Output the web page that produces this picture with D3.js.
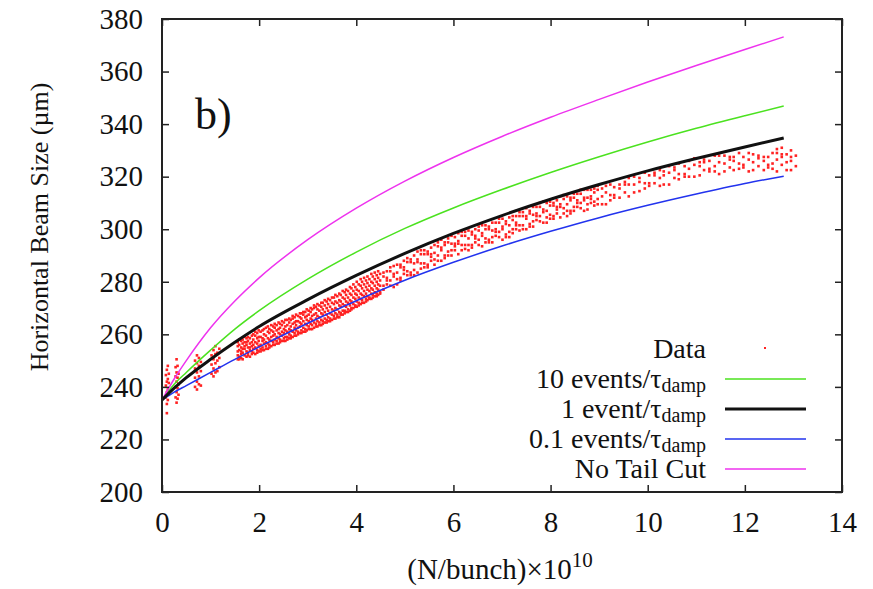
<!DOCTYPE html>
<html>
<head>
<meta charset="utf-8">
<script src="https://d3js.org/d3.v7.min.js"></script>
<style>
    body { margin: 0; background: #fff; }
    text { font-family: "Liberation Serif", "Times New Roman", Times, "DejaVu Serif", serif; fill: #111; }
</style>
</head>
<body>
<script>
//wrap everything in a self-executing anonymous function
(function(){

//axis ticks
var xTicks = [0, 2, 4, 6, 8, 10, 12, 14];
var yTicks = [200, 220, 240, 260, 280, 300, 320, 340, 360, 380];

//simulation curves, sampled along N/bunch (x10^10)
var curveN     = [0, 0.25, 0.5, 1, 1.5, 2, 3, 4, 5, 6, 7, 8, 9, 10, 11, 12, 12.8];
var tenEvents  = [235, 241, 245.5, 254, 262, 269, 281, 291.3, 300.3, 308.1, 315.1, 321.6, 327.6, 333.2, 338.4, 343.2, 346.9];
var oneEvent   = [235, 239.5, 243.5, 250.5, 257, 263, 273.2, 282.4, 290.8, 298.4, 305.2, 311.4, 317, 322.2, 326.9, 331.3, 334.7];
var tenthEvent = [235, 238, 240.5, 245.5, 250.5, 255.2, 264.2, 272.8, 280.6, 287.4, 293.6, 299.2, 304.4, 309.1, 313.4, 317.4, 320.2];
var noTailCut  = [235, 243, 250, 262.5, 272.7, 281.5, 296, 308, 318.3, 327.3, 335.3, 342.6, 349.4, 356, 362.3, 368.4, 373.2];

//measured data, each row is [N/bunch, beam sizes...]
var dataColumns = [
    //first few intensity steps
    [0.08,236,240.5,244.5],[0.10,230,233.5,238,242,246.5],[0.12,235,239,243,248],[0.14,237,241.5,245],
    [0.28,236,240,244,247.5],[0.30,234,238,242,245.5,250.5],[0.32,235.5,239.5,243.5,248],[0.34,237,241,245],
    [0.68,240,243.5,247,250],[0.72,239,242,245.5,249,252],[0.76,241,244,248,251],[0.80,240.5,246,249.5],
    [1.02,245,248.5,252],[1.06,244,247,250.5,254],[1.10,245.5,249,252.5,255.5],[1.14,246,250,253],[1.18,247.5,251,254.5],
    //continuous scan, dense part
    [1.56,250.5,252,255.5,257,253.5],[1.59,251.5,254,256,258,250.5],[1.63,252.5,255,257.5,251,253.5],
    [1.66,250.5,253,256.5,258,254.5],[1.70,252,254.5,257,259,255.5],[1.74,251.5,253.5,256,258.5,257],
    [1.77,253,255,257.5,252,259],[1.81,251.5,254,256.5,258.5,255],[1.85,252.5,255.5,257,259.5,253.5],
    [1.88,253,254.5,258,260,256],[1.92,252.5,255,257,259.5,261],[1.96,254,256.5,258.5,260.5,253],
    [1.99,253.5,255.5,257.5,259,261.5],[2.03,254.5,256,259,261,253.5],[2.07,255,257.5,258.5,261.5,254],
    [2.10,254,256.5,260,262,258],[2.14,255.5,257,259.5,262.5,254.5],[2.18,254.5,256.5,258.5,261,263],
    [2.21,256,258,260.5,262,255],[2.25,255.5,257.5,259,261.5,263.5],[2.29,257,259.5,261,263,256],
    [2.32,256,258,260,262.5,264],[2.36,257.5,259,261.5,263.5,256.5],[2.40,256.5,258.5,260.5,262,264.5],
    [2.43,258,260,262.5,264,257],[2.47,257.5,259.5,261,263.5,265],[2.51,258.5,260.5,262,264.5,257.5],
    [2.54,257.5,259,261.5,263,265.5],[2.58,259,261,263.5,265.5,258],[2.62,258.5,260,262,264.5,266],
    [2.65,259.5,261.5,263,265.5,258.5],[2.69,259,261,264,266,267],[2.73,260.5,262.5,264.5,266.5,259.5],
    [2.76,259.5,261.5,263.5,265,267.5],[2.80,261,262.5,265,267,260],[2.84,260.5,263,264.5,266.5,268],
    [2.87,261.5,264,266,268,260.5],[2.91,261,262.5,265,267.5,268.5],[2.95,262,264,266.5,268.5,261],
    [2.98,261.5,263.5,265.5,267,269.5],[3.02,263,265,267.5,269,262],[3.06,262,264,266,268.5,270],
    [3.09,263.5,265.5,267,269.5,262],[3.13,262.5,264.5,267.5,270,271],[3.17,264,266,268,270.5,263],
    [3.20,263,265,267,269.5,271.5],[3.24,264.5,266.5,269,271,263.5],[3.28,263.5,265.5,268,270.5,272],
    [3.31,265,267.5,269.5,272,264],[3.35,264.5,266,268.5,271,273],[3.39,265.5,267.5,270,272.5,264.5],
    [3.42,265,266.5,269,271.5,273.5],[3.46,266,268,270.5,273,265],[3.50,265.5,267.5,269.5,272,274],
    [3.54,267,269,271.5,274,266],[3.57,266,268,270,272.5,275],[3.61,267.5,269.5,272,274.5,266.5],
    [3.65,266.5,268.5,271,273,275.5],[3.68,268,270.5,272.5,275,267.5],[3.72,267.5,269,271.5,274,276.5],
    [3.76,269,271,273.5,276,268],[3.79,268.5,270.5,272.5,275,277],[3.83,269.5,272,274,276.5,268.5],
    [3.87,269,271,273,275.5,278],[3.90,270,272.5,275,277.5,269.5],[3.94,270,271.5,274,276.5,279],
    [3.98,271,273.5,275.5,278,270.5],[4.01,270.5,272.5,275,277,280],[4.05,272,274,276.5,279,271],
    [4.09,271.5,273.5,275.5,278.5,281],[4.12,273,275,277.5,280,272],[4.16,272,274.5,276.5,279,281.5],
    [4.20,273.5,275.5,278,280.5,272.5],[4.23,273,274.5,277,279.5,282],[4.27,274,276.5,278.5,281,273.5],
    [4.31,273.5,275.5,277.5,280,283],[4.34,275,277,279.5,282,274],[4.38,274.5,276,278.5,281,283.5],
    [4.42,275.5,277.5,280,282.5,274.5],[4.45,275,277,279,281.5,284],[4.49,276,278.5,280.5,283,275.5],
    //continuous scan, middle part
    [4.56,277,278.5,282,283.5],[4.63,279,280.5,281.5,284],[4.70,280.5,284,285.5,278.5],[4.77,278,282,283,286],
    [4.84,279,281,283.5,286.5],[4.91,280.5,281.5,285.5,286.5],[4.98,283,284.5,285.5,288],[5.05,282.5,284,287.5,289],
    [5.12,282.5,283.5,287.5,288.5],[5.19,282.5,284.5,287,290],[5.26,283.5,287.5,288.5,291.5],[5.33,287,290.5,292,285],
    [5.40,285.5,287,290.5,292],[5.47,285.5,286.5,290.5,291.5],[5.54,288,289.5,290.5,293],[5.61,286.5,288.5,291,294],
    [5.68,290,293.5,295,288],[5.75,288,292,293,296],[5.82,289,290,294,295],[5.89,290,291.5,295,296.5],
    [5.96,290,292,294.5,297.5],[6.03,292,293.5,294.5,297],[6.10,290.5,294.5,295.5,298.5],[6.17,294,297.5,299,292],
    [6.24,292.5,294,297.5,299],[6.31,292,294,296.5,299.5],[6.38,293,294,298,299],[6.45,295,296.5,297.5,300],
    [6.52,296,299.5,301,294],[6.59,293.5,297.5,298.5,301.5],[6.66,295,296.5,300,301.5],[6.73,295,296,300,301],
    [6.80,295,297,299.5,302.5],[6.87,297.5,299,300,302.5],[6.94,299,302.5,304,297],[7.01,296,300,301,304],
    [7.08,297,298,302,303],[7.15,297,299,301.5,304.5],[7.22,298.5,300,303.5,305],[7.29,300,301.5,302.5,305],
    [7.36,301.5,305,306.5,299.5],[7.43,300,301.5,305,306.5],[7.50,300,304,305,308],[7.57,301,302,306,307],
    [7.64,301,303,305.5,308.5],[7.71,303.5,305,306,308.5],[7.78,305,308.5,310,303],[7.85,302.5,306.5,307.5,310.5],
    [7.92,302.5,304.5,307,310],[7.99,304,305.5,309,310.5],[8.06,304,305,309,310],[8.13,306,307.5,308.5,311],
    [8.20,304.5,308.5,309.5,312.5],[8.27,308,311.5,313,306],[8.34,305,307,309.5,312.5],[8.41,306,307,311,312],
    [8.48,307,308.5,312,313.5],[8.55,308.5,310,311,313.5],[8.62,310,313.5,315,308],[8.69,307,311,312,315],
    [8.76,307.5,309.5,312,315],[8.83,310,311.5,312.5,315],[8.90,309,310.5,314,315.5],[8.97,311.5,315,316.5,309.5],
    //continuous scan, high intensity
    [9.06,309.5,312.5,315.5],[9.14,309.5,314,316.5],[9.23,311,313,317],[9.31,312,313,316],[9.42,312,315.5,317],
    [9.53,314,317,318],[9.61,312.5,317,319.5],[9.72,314,317,320],[9.83,314.5,318,319.5],[9.94,315.5,317.5,321.5],
    [10.03,316.5,317.5,320.5],[10.14,317.5,320.5,321.5],[10.25,316.5,319.5,322.5],[10.33,317,320.5,322],[10.44,317,321.5,324],
    [10.55,319.5,322.5,323.5],[10.64,319,321,325],[10.76,320,321,324],[10.85,320,323,326],[10.96,320,324.5,327],
    [11.07,320.5,324,325.5],[11.16,322.5,325.5,326.5],[11.27,322,323,326],[11.38,322,324,328],[11.47,321,325.5,328],
    [11.58,322,325,328],[11.69,323.5,326.5,327.5],[11.77,322.5,326,327.5],[11.88,323,325,329],[11.97,323.5,324.5,327.5],
    [12.08,322,326.5,329],[12.17,322.5,325.5,328.5],[12.28,324,327,328],[12.39,322.5,326,327.5],[12.48,323.5,324.5,327.5],
    [12.57,323,325,329],[12.66,322,326.5,329,330.5],[12.76,324.5,327.5,328.5,331],[12.86,322.5,325.5,328.5],[12.95,322.5,326,327.5,330],
    [13.05,324,328]
];

//legend entries
var legendLabels = ["Data", "10 events/\u03c4", "1 event/\u03c4", "0.1 events/\u03c4", "No Tail Cut"];
var legendSubs = ["", "damp", "damp", "damp", ""];

//page and plot frame dimensions
var width = 873,
    height = 589,
    margin = {top: 19, right: 31, bottom: 97, left: 162},
    plotW = width - margin.left - margin.right,
    plotH = height - margin.top - margin.bottom;

var svg = d3.select("body")
    .append("svg")
    .attr("width", width)
    .attr("height", height);

var plot = svg.append("g")
    .attr("transform", "translate(" + margin.left + "," + margin.top + ")");

//scales
var x = d3.scaleLinear().domain([0, 14]).range([0, plotW]);
var y = d3.scaleLinear().domain([200, 380]).range([plotH, 0]);

//flatten data columns into points
var points = [];
dataColumns.forEach(function(c){
    for (var i=1; i<c.length; i++){
        points.push({n: c[0], s: c[i]});
    };
});

//data dots
plot.selectAll(".dot")
    .data(points)
    .enter()
    .append("rect")
    .attr("class", "dot")
    .attr("x", function(d){ return x(d.n) - 1.3; })
    .attr("y", function(d){ return y(d.s) - 1.3; })
    .attr("width", 2.6)
    .attr("height", 2.6)
    .style("fill", "#ff2222");

//simulation curves
var series = [
    {vals: tenEvents, color: "#4be21f", w: 1.5},
    {vals: tenthEvent, color: "#2233ee", w: 1.5},
    {vals: noTailCut, color: "#ee33ee", w: 1.5},
    {vals: oneEvent, color: "#111111", w: 3}
];
var line = d3.line()
    .x(function(d){ return x(d[0]); })
    .y(function(d){ return y(d[1]); })
    .curve(d3.curveMonotoneX);

series.forEach(function(s){
    plot.append("path")
        .datum(curveN.map(function(n, i){ return [n, s.vals[i]]; }))
        .attr("d", line)
        .style("fill", "none")
        .style("stroke", s.color)
        .style("stroke-width", s.w);
});

//axes with inward ticks on all four sides
var tickFont = 29;
plot.append("g")
    .attr("transform", "translate(0," + plotH + ")")
    .call(d3.axisBottom(x).tickValues(xTicks).tickFormat(d3.format("d")).tickSizeInner(-7).tickSizeOuter(0).tickPadding(19));
plot.append("g")
    .call(d3.axisLeft(y).tickValues(yTicks).tickSizeInner(-7).tickSizeOuter(0).tickPadding(19));
plot.append("g")
    .call(d3.axisTop(x).tickValues(xTicks).tickFormat("").tickSizeInner(-7).tickSizeOuter(0));
plot.append("g")
    .attr("transform", "translate(" + plotW + ",0)")
    .call(d3.axisRight(y).tickValues(yTicks).tickFormat("").tickSizeInner(-7).tickSizeOuter(0));

plot.selectAll(".domain").remove();
plot.selectAll(".tick line").style("stroke", "#222").style("stroke-width", 1.5);
plot.selectAll(".tick text")
    .style("font-family", "'Liberation Serif', 'Times New Roman', serif")
    .style("font-size", tickFont + "px")
    .style("fill", "#111");

//frame
plot.append("rect")
    .attr("width", plotW)
    .attr("height", plotH)
    .style("fill", "none")
    .style("stroke", "#222")
    .style("stroke-width", 2);

//panel label
plot.append("text")
    .attr("x", 33)
    .attr("y", 110)
    .style("font-size", "44px")
    .text("b)");

//legend
var legend = svg.append("g");
var legendColors = ["#ff2222", "#4be21f", "#111111", "#2233ee", "#ee33ee"];
var legendWidths = [0, 1.5, 3, 1.5, 1.5];
legendLabels.forEach(function(lab, i){
    var ry = 349 + i * 30;
    var t = legend.append("text")
        .attr("x", 706)
        .attr("y", ry + 9)
        .attr("text-anchor", "end")
        .style("font-size", "28px");
    t.append("tspan").text(lab);
    if (legendSubs[i]){
        t.append("tspan")
            .attr("dy", 4)
            .style("font-size", "20px")
            .text(legendSubs[i]);
    };
    if (i === 0){
        legend.append("rect")
            .attr("x", 764).attr("y", ry - 2)
            .attr("width", 2).attr("height", 2)
            .style("fill", legendColors[i]);
    } else {
        legend.append("line")
            .attr("x1", 725).attr("x2", 806)
            .attr("y1", ry).attr("y2", ry)
            .style("stroke", legendColors[i])
            .style("stroke-width", legendWidths[i]);
    };
});

//axis titles
svg.append("text")
    .attr("transform", "translate(48,227) rotate(-90)")
    .attr("text-anchor", "middle")
    .style("font-size", "26px")
    .text("Horizontal Beam Size (\u00b5m)");

var xt = svg.append("text")
    .attr("x", 500)
    .attr("y", 579)
    .attr("text-anchor", "middle")
    .style("font-size", "29px");
xt.append("tspan").text("(N/bunch)\u00d710");
xt.append("tspan").attr("dy", -12).style("font-size", "21px").text("10");

})();
</script>
</body>
</html>
